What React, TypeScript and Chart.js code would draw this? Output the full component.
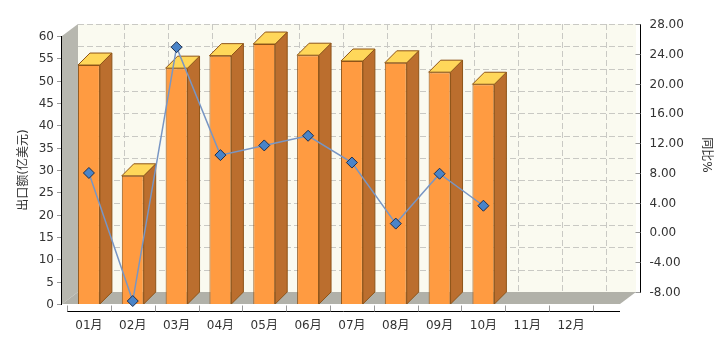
import React, { useEffect, useRef } from 'react';
import { Chart, registerables } from 'chart.js';

Chart.register(...registerables);

// ---------- data ----------
const months = ['01月', '02月', '03月', '04月', '05月', '06月', '07月', '08月', '09月', '10月', '11月', '12月'];
const exportValues = [53.5, 28.7, 52.8, 55.6, 58.2, 55.7, 54.4, 54.0, 51.9, 49.2, null, null];
const growthValues = [9.6, -7.6, 26.5, 12.0, 13.3, 14.6, 11.0, 2.8, 9.5, 5.2, null, null];
const leftTicks = [0, 5, 10, 15, 20, 25, 30, 35, 40, 45, 50, 55, 60];
const rightTicks = [-8, -4, 0, 4, 8, 12, 16, 20, 24, 28];
const leftTitle = '出口额(亿美元)';
const rightTitle = '同比%';

// ---------- style ----------
const FONT = '12px "DejaVu Sans", "Noto Sans CJK SC", sans-serif';
const TEXT = '#333333';
const WALL_DX = 16;
const WALL_DY = 12;
const GRID_DX = 13;
const BAR_DX = 12;
const BAR_DY = 12;
const FRONT = '#FF9B41';
const SIDE = '#BB6E2E';
const TOP = '#FFD75A';
const EDGE = '#8E5418';

const scenePlugin = {
  id: 'scene3d',
  beforeDatasetsDraw(chart: any) {
    const { ctx, chartArea: a, scales } = chart;
    const y = scales.y;
    const x = scales.x;
    const fL = a.left - 5;
    const fR = a.right + 27;
    const fT = a.top;
    const fB = a.bottom;
    ctx.save();
    // back wall
    ctx.fillStyle = '#FAFAF0';
    ctx.fillRect(fL + WALL_DX, fT - WALL_DY, fR - fL, fB - fT);
    // dashed grid on back wall
    ctx.strokeStyle = '#C9C9C4';
    ctx.lineWidth = 1;
    ctx.setLineDash([6, 3]);
    for (const v of leftTicks) {
      const py = Math.round(y.getPixelForValue(v) - WALL_DY) + 0.5;
      ctx.beginPath();
      ctx.moveTo(fL + WALL_DX, py);
      ctx.lineTo(fR + WALL_DX, py);
      ctx.stroke();
    }
    const step = x.getPixelForValue(1) - x.getPixelForValue(0);
    for (let i = 1; i <= months.length; i++) {
      const px = Math.round(x.getPixelForValue(i) - step / 2 + GRID_DX) + 0.5;
      ctx.beginPath();
      ctx.moveTo(px, fT - WALL_DY);
      ctx.lineTo(px, fB - WALL_DY);
      ctx.stroke();
    }
    ctx.setLineDash([]);
    // left wall
    ctx.fillStyle = '#B7B7AF';
    ctx.beginPath();
    ctx.moveTo(fL, fT);
    ctx.lineTo(fL + WALL_DX, fT - WALL_DY);
    ctx.lineTo(fL + WALL_DX, fB - WALL_DY);
    ctx.lineTo(fL, fB);
    ctx.closePath();
    ctx.fill();
    // floor
    ctx.fillStyle = '#B1B1A9';
    ctx.beginPath();
    ctx.moveTo(fL, fB);
    ctx.lineTo(fL + WALL_DX, fB - WALL_DY);
    ctx.lineTo(fR + WALL_DX, fB - WALL_DY);
    ctx.lineTo(fR, fB);
    ctx.closePath();
    ctx.fill();
    ctx.restore();
  },
  afterDatasetDraw(chart: any, args: any) {
    if (args.index !== 0) return;
    const { ctx } = chart;
    const meta = chart.getDatasetMeta(0);
    ctx.save();
    ctx.lineWidth = 1;
    ctx.strokeStyle = EDGE;
    meta.data.forEach((bar: any, i: number) => {
      if (exportValues[i] == null) return;
      const { x, y, base, width } = bar.getProps(['x', 'y', 'base', 'width'], true);
      const l = x - width / 2;
      const r = x + width / 2;
      // side
      ctx.fillStyle = SIDE;
      ctx.beginPath();
      ctx.moveTo(r, y);
      ctx.lineTo(r + BAR_DX, y - BAR_DY);
      ctx.lineTo(r + BAR_DX, base - BAR_DY);
      ctx.lineTo(r, base);
      ctx.closePath();
      ctx.fill();
      ctx.stroke();
      // top
      ctx.fillStyle = TOP;
      ctx.beginPath();
      ctx.moveTo(l, y);
      ctx.lineTo(l + BAR_DX, y - BAR_DY);
      ctx.lineTo(r + BAR_DX, y - BAR_DY);
      ctx.lineTo(r, y);
      ctx.closePath();
      ctx.fill();
      ctx.stroke();
    });
    ctx.restore();
  },
  afterDraw(chart: any) {
    const { ctx, chartArea: a, scales } = chart;
    const y = scales.y;
    const y1 = scales.y1;
    const x = scales.x;
    const fL = a.left - 5;
    const fR = a.right + 27;
    ctx.save();
    ctx.font = FONT;
    ctx.fillStyle = TEXT;
    ctx.lineWidth = 1;
    // left axis
    ctx.strokeStyle = '#000';
    ctx.beginPath();
    ctx.moveTo(fL - 0.5, a.top);
    ctx.lineTo(fL - 0.5, a.bottom + 1);
    ctx.stroke();
    ctx.textAlign = 'right';
    ctx.textBaseline = 'middle';
    for (const v of leftTicks) {
      const py = Math.round(y.getPixelForValue(v)) + 0.5;
      ctx.strokeStyle = '#999';
      ctx.beginPath();
      ctx.moveTo(fL - 5, py);
      ctx.lineTo(fL - 1, py);
      ctx.stroke();
      ctx.fillText(String(v), fL - 8, py);
    }
    // right axis (on back plane)
    const rx = fR + WALL_DX + 4.5;
    ctx.strokeStyle = '#000';
    ctx.beginPath();
    ctx.moveTo(rx, y1.getPixelForValue(28) - WALL_DY);
    ctx.lineTo(rx, y1.getPixelForValue(-8) - WALL_DY + 1);
    ctx.stroke();
    ctx.textAlign = 'left';
    for (const v of rightTicks) {
      const py = Math.round(y1.getPixelForValue(v) - WALL_DY) + 0.5;
      ctx.strokeStyle = '#999';
      ctx.beginPath();
      ctx.moveTo(rx - 5, py);
      ctx.lineTo(rx, py);
      ctx.stroke();
      ctx.fillText(v.toFixed(2), rx + 9, py);
    }
    // x axis
    const ay = a.bottom + 7.5;
    ctx.strokeStyle = '#000';
    ctx.beginPath();
    ctx.moveTo(a.left, ay);
    ctx.lineTo(fR, ay);
    ctx.stroke();
    const step = x.getPixelForValue(1) - x.getPixelForValue(0);
    ctx.strokeStyle = '#999';
    for (let i = 0; i <= months.length; i++) {
      const px = Math.round(x.getPixelForValue(i) - step / 2) + 0.5;
      ctx.beginPath();
      ctx.moveTo(px, ay - 6);
      ctx.lineTo(px, ay);
      ctx.stroke();
    }
    ctx.textAlign = 'center';
    months.forEach((m, i) => {
      ctx.fillText(m, x.getPixelForValue(i), a.bottom + 22);
    });
    // titles
    ctx.save();
    ctx.translate(24, (a.top + a.bottom) / 2);
    ctx.rotate(-Math.PI / 2);
    ctx.fillText(leftTitle, 0, 0);
    ctx.restore();
    ctx.save();
    ctx.translate(706, (a.top + a.bottom) / 2 - 15);
    ctx.rotate(Math.PI / 2);
    ctx.fillText(rightTitle, 0, 0);
    ctx.restore();
    ctx.restore();
  },
};

export default function App() {
  const ref = useRef<HTMLCanvasElement>(null);
  useEffect(() => {
    const chart = new Chart(ref.current as HTMLCanvasElement, {
      type: 'bar',
      data: {
        labels: months,
        datasets: [
          {
            type: 'bar',
            label: leftTitle,
            data: exportValues as any,
            yAxisID: 'y',
            backgroundColor: FRONT,
            borderColor: EDGE,
            borderWidth: 1,
            barPercentage: 1,
            categoryPercentage: 0.5,
            order: 2,
          },
          {
            type: 'line',
            label: rightTitle,
            data: growthValues as any,
            yAxisID: 'y1',
            borderColor: '#7896C4',
            borderWidth: 1.5,
            pointStyle: 'rectRot',
            pointRadius: 5.5,
            pointBackgroundColor: '#4A84C8',
            pointBorderColor: '#1C2E4E',
            pointBorderWidth: 1,
            tension: 0,
            clip: false as any,
            order: 1,
          },
        ],
      },
      options: {
        responsive: false,
        animation: false,
        layout: { padding: { left: 67, right: 127, top: 36, bottom: 36 } },
        scales: {
          x: { display: false, offset: true },
          y: { display: false, min: 0, max: 60 },
          y1: { display: false, min: -8, max: 28, position: 'right' },
        },
        plugins: { legend: { display: false }, tooltip: { enabled: false } },
      },
      plugins: [scenePlugin],
    });
    return () => chart.destroy();
  }, []);
  return (
    <div style={{ position: 'absolute', left: 0, top: 0, width: 720, height: 340, background: '#fff' }}>
      <canvas ref={ref} width={720} height={340} style={{ display: 'block', width: 720, height: 340 }} />
    </div>
  );
}
